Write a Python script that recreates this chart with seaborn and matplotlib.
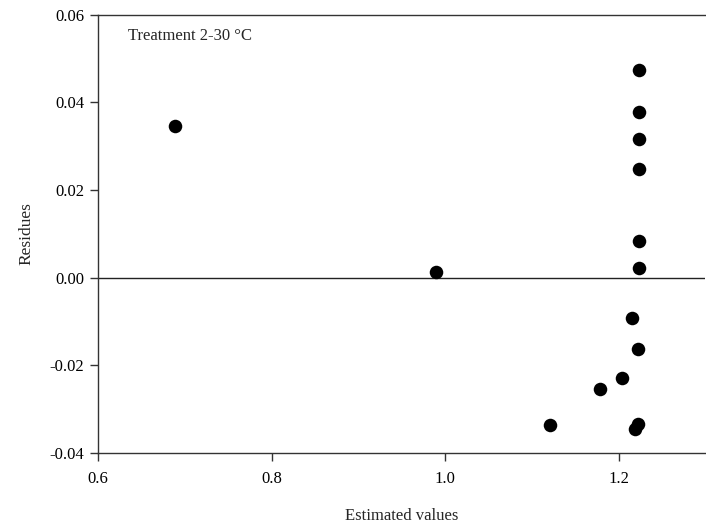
import matplotlib
matplotlib.use("Agg")
import matplotlib.pyplot as plt
import seaborn as sns
import pandas as pd

estimated = [0.689, 0.990, 1.2238, 1.2238, 1.2238, 1.2238, 1.2238, 1.2238,
             1.215, 1.2222, 1.2038, 1.1785, 1.1215, 1.2225, 1.219]
residues = [0.0346, 0.0012, 0.0473, 0.0378, 0.0317, 0.0247, 0.0083, 0.0022,
            -0.0093, -0.0164, -0.0230, -0.0255, -0.0336, -0.0335, -0.0345]
x_ticks = [0.6, 0.8, 1.0, 1.2]
y_ticks = [-0.04, -0.02, 0.00, 0.02, 0.04, 0.06]

df = pd.DataFrame({"Estimated values": estimated, "Residues": residues})

sns.set_style("ticks")
plt.rcParams['font.family'] = ['Liberation Serif', 'DejaVu Serif']

fig = plt.figure(figsize=(7.06, 5.26), dpi=100)
ax = fig.add_axes([98/706, 1 - 452.7/526, 1 - 98/706 - 0.001, (452.7 - 14.7)/526])

sns.scatterplot(data=df, x="Estimated values", y="Residues", ax=ax,
                color="black", s=95, edgecolor="black", linewidth=0, zorder=3)

ax.axhline(0, color="#222222", lw=1.0, zorder=2)
ax.set_xlim(0.6, 1.3)
ax.set_ylim(-0.04, 0.06)
ax.set_xticks(x_ticks)
ax.set_xticklabels([f"{v:.1f}" for v in x_ticks])
ax.set_yticks(y_ticks)
ax.set_yticklabels([f"{v:.2f}" for v in y_ticks])

for side in ["left", "bottom", "top"]:
    ax.spines[side].set_color("#333333")
    ax.spines[side].set_linewidth(1.0)
ax.spines["right"].set_visible(False)
ax.tick_params(axis="both", direction="out", length=6, width=1.0,
               color="#333333", labelsize=12, labelcolor="black", pad=4)
ax.tick_params(axis="x", pad=7)

ax.set_xlabel("Estimated values", fontsize=12, labelpad=15)
ax.set_ylabel("Residues", fontsize=12.5, labelpad=11)

ax.text(0.6345, 0.0551, "Treatment 2-30 \u00b0C", fontsize=12, va="center", ha="left")

fig.savefig("out.png", dpi=100)
